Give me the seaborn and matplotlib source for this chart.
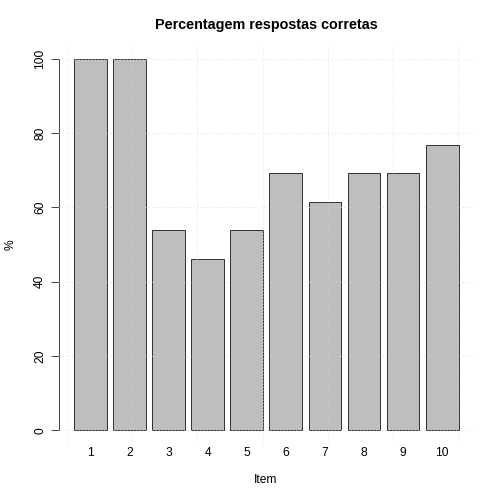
import matplotlib

matplotlib.use('Agg')
import matplotlib.pyplot as plt
import numpy as np
import seaborn as sns

# share of correct answers per item (13 respondents)
items = ['1', '2', '3', '4', '5', '6', '7', '8', '9', '10']
pct_correct = [100, 100, 53.85, 46.15, 53.85, 69.23, 61.54, 69.23, 69.23, 76.92]
y_ticks = [0, 20, 40, 60, 80, 100]

sns.set_style('white')
plt.rcParams['font.family'] = ['Liberation Sans', 'DejaVu Sans']
plt.rcParams['text.color'] = 'black'
plt.rcParams['axes.labelcolor'] = 'black'
plt.rcParams['xtick.color'] = 'black'
plt.rcParams['ytick.color'] = 'black'

fig = plt.figure(figsize=(7, 7), dpi=72)
ax = fig.add_axes([59 / 504, 59 / 504, 414 / 504, 401 / 504])

sns.barplot(x=items, y=pct_correct, order=items, color='#BEBEBE', saturation=1,
            width=0.836, edgecolor='#222222', linewidth=0.9, ax=ax, zorder=2)

ax.set_xlim(-0.80, 9.788)
ax.set_ylim(-4, 104)

# R-style dotted grid drawn over the bars
for yv in y_ticks:
    ax.axhline(yv, color='#D3D3D3', linestyle=(0, (1, 3)), linewidth=0.8, zorder=3)
for k in range(7):
    ax.axvline(-0.604 + 1.67 * k, color='#D3D3D3', linestyle=(0, (1, 3)), linewidth=0.8, zorder=3)

for side in ['top', 'right', 'bottom']:
    ax.spines[side].set_visible(False)
ax.spines['left'].set_bounds(0, 100)
ax.spines['left'].set_color('#333333')
ax.spines['left'].set_linewidth(0.9)

ax.set_yticks(y_ticks)
ax.set_yticklabels([str(v) for v in y_ticks], rotation=90, va='center')
ax.tick_params(axis='y', left=True, length=8, width=0.9, color='#333333', pad=5, labelsize=12)
ax.tick_params(axis='x', bottom=False, length=0, pad=2, labelsize=12)

ax.set_xlabel('Item', fontsize=12)
ax.xaxis.set_label_coords(0.5, -0.0873)
ax.xaxis.label.set_va('center')
ax.set_ylabel('%', fontsize=12)
ax.yaxis.set_label_coords(-0.117, 0.5)
ax.yaxis.label.set_va('center')

ax.set_title('Percentagem respostas corretas', fontsize=14.4, fontweight='bold', y=1.032, va='center')

plt.savefig('out.png', dpi=72)
plt.close()
